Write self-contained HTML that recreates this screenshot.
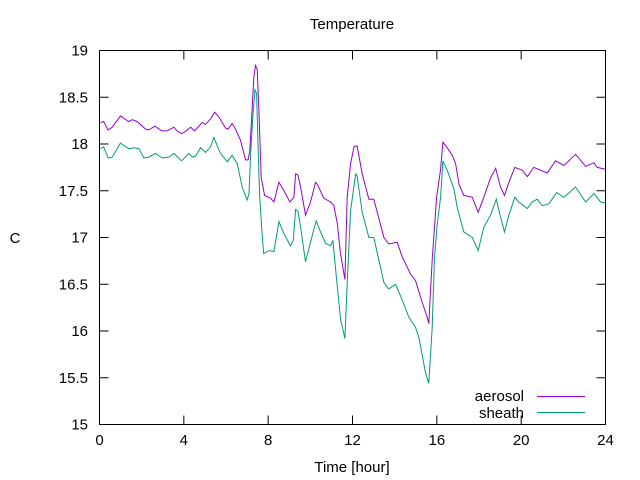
<!DOCTYPE html>
<html><head><meta charset="utf-8"><style>
body{margin:0;background:#fff}
svg{display:block}
text{font-family:"Liberation Sans",sans-serif;font-size:15px;fill:#000}
</style></head><body>
<svg id="chart" width="640" height="480">
<rect x="99.5" y="50.5" width="506" height="374" fill="none" stroke="#000"/>
<g id="ticks"></g>
<text x="352" y="29" text-anchor="middle">Temperature</text>
<text x="352" y="472" text-anchor="middle">Time [hour]</text>
<text x="15" y="243" text-anchor="middle">C</text>
<g id="series"></g>
<g>
<text x="524" y="401" text-anchor="end">aerosol</text>
<line x1="537" y1="396.5" x2="585" y2="396.5" stroke="#9400d3"/>
<text x="524" y="418" text-anchor="end">sheath</text>
<line x1="537" y1="412.5" x2="585" y2="412.5" stroke="#009e73"/>
</g>
</svg>
<script>
const xTicks=[0,4,8,12,16,20,24];
const yTicks=[15,15.5,16,16.5,17,17.5,18,18.5,19];
const aerosolHours=[0.05,0.2,0.41,0.6,0.99,1.39,1.55,1.79,2.18,2.34,2.62,2.97,3.21,3.53,3.68,3.89,4.05,4.32,4.51,4.87,5.03,5.27,5.46,5.66,5.98,6.1,6.29,6.45,6.69,6.93,7.05,7.13,7.21,7.32,7.4,7.48,7.56,7.67,7.83,8.11,8.27,8.51,8.75,9.03,9.22,9.3,9.41,9.54,9.77,10.01,10.25,10.33,10.64,10.96,11.12,11.28,11.43,11.64,11.75,11.91,12.07,12.22,12.46,12.78,13.01,13.49,13.72,14.12,14.36,14.75,14.99,15.3,15.54,15.62,15.78,15.99,16.18,16.29,16.49,16.73,16.89,17.05,17.28,17.68,17.96,18.23,18.55,18.79,19.02,19.21,19.42,19.7,20.05,20.29,20.6,20.92,21.24,21.63,22.03,22.58,23.06,23.45,23.61,24];
const aerosolValues=[18.23,18.24,18.15,18.18,18.3,18.24,18.26,18.24,18.16,18.15,18.19,18.14,18.14,18.18,18.14,18.11,18.13,18.18,18.14,18.23,18.21,18.27,18.34,18.29,18.17,18.16,18.22,18.16,18.04,17.83,17.83,17.93,18.25,18.71,18.84,18.8,18.36,17.64,17.45,17.42,17.38,17.59,17.5,17.38,17.43,17.68,17.67,17.54,17.24,17.38,17.59,17.57,17.42,17.38,17.34,17.15,16.83,16.55,17.43,17.79,17.97,17.98,17.68,17.41,17.41,17.0,16.93,16.95,16.79,16.61,16.54,16.31,16.15,16.08,16.76,17.43,17.73,18.02,17.96,17.88,17.79,17.57,17.45,17.43,17.27,17.43,17.64,17.74,17.54,17.45,17.59,17.75,17.72,17.65,17.75,17.72,17.69,17.82,17.77,17.89,17.76,17.8,17.75,17.73];
const sheathHours=[0.05,0.2,0.41,0.6,0.99,1.39,1.63,1.87,2.1,2.34,2.66,2.97,3.29,3.53,3.89,4.24,4.4,4.55,4.79,5.03,5.27,5.42,5.74,6.06,6.29,6.53,6.77,7.0,7.09,7.16,7.27,7.37,7.45,7.52,7.6,7.71,7.79,8.03,8.27,8.51,8.75,9.06,9.19,9.3,9.41,9.54,9.77,10.01,10.28,10.48,10.72,10.96,11.07,11.2,11.43,11.64,11.75,11.91,12.15,12.22,12.46,12.78,13.01,13.49,13.72,14.04,14.36,14.67,14.99,15.15,15.46,15.62,15.78,15.89,16.02,16.18,16.29,16.49,16.81,16.97,17.28,17.68,17.96,18.23,18.55,18.82,19.02,19.21,19.42,19.7,19.89,20.29,20.52,20.76,21.0,21.32,21.68,22.03,22.58,23.06,23.45,23.77,24];
const sheathValues=[17.95,17.97,17.85,17.86,18.01,17.95,17.96,17.95,17.85,17.86,17.9,17.85,17.86,17.9,17.82,17.9,17.86,17.87,17.96,17.91,17.97,18.07,17.9,17.81,17.88,17.79,17.54,17.4,17.47,17.86,18.29,18.58,18.54,18.0,17.43,17.04,16.83,16.86,16.85,17.17,17.04,16.91,16.97,17.3,17.28,17.11,16.74,16.95,17.18,17.06,16.94,16.91,16.97,16.66,16.13,15.92,16.51,17.29,17.68,17.66,17.27,17.0,17.0,16.52,16.45,16.5,16.33,16.15,16.04,15.93,15.56,15.44,16.04,16.79,17.15,17.43,17.82,17.72,17.52,17.32,17.06,17.0,16.86,17.11,17.24,17.41,17.22,17.06,17.24,17.43,17.38,17.31,17.38,17.41,17.34,17.36,17.48,17.43,17.54,17.38,17.47,17.38,17.37];
const X0=99.5,X1=605.5,Y0=424.5,Y1=50.5;
const xs=h=>X0+(h-0)/(24-0)*(X1-X0);
const ys=v=>Y0-(v-15)/(19-15)*(Y0-Y1);
const NS='http://www.w3.org/2000/svg';
const tg=document.getElementById('ticks');
function mk(tag,attrs,parent){const e=document.createElementNS(NS,tag);for(const k in attrs)e.setAttribute(k,attrs[k]);parent.appendChild(e);return e;}
xTicks.forEach(t=>{
  const x=xs(t);
  const a=mk('line',{x1:x,y1:Y0,x2:x,y2:Y0-9,stroke:'#000'},tg);
  
  
  const b=mk('line',{x1:x,y1:Y1,x2:x,y2:Y1+9,stroke:'#000'},tg);
  
  
  const l=mk('text',{x:x,y:445,'text-anchor':'middle'},tg);l.textContent=t;
  
  
});
yTicks.forEach(t=>{
  const y=ys(t);
  const a=mk('line',{x1:X0,y1:y,x2:X0+9,y2:y,stroke:'#000'},tg);
  
  
  const b=mk('line',{x1:X1,y1:y,x2:X1-9,y2:y,stroke:'#000'},tg);
  
  
  const l=mk('text',{x:88,y:y+5,'text-anchor':'end'},tg);l.textContent=t;
  
  
});
const sg=document.getElementById('series');
function line(hs,vs,color,name){
  const pts=hs.map((h,i)=>xs(h).toFixed(1)+','+ys(vs[i]).toFixed(1)).join(' ');
  const p=mk('polyline',{points:pts,fill:'none',stroke:color,'stroke-width':1},sg);
  
  
}
line(aerosolHours,aerosolValues,'#9400d3','aerosol-line');
line(sheathHours,sheathValues,'#009e73','sheath-line');
</script>
</body></html>
